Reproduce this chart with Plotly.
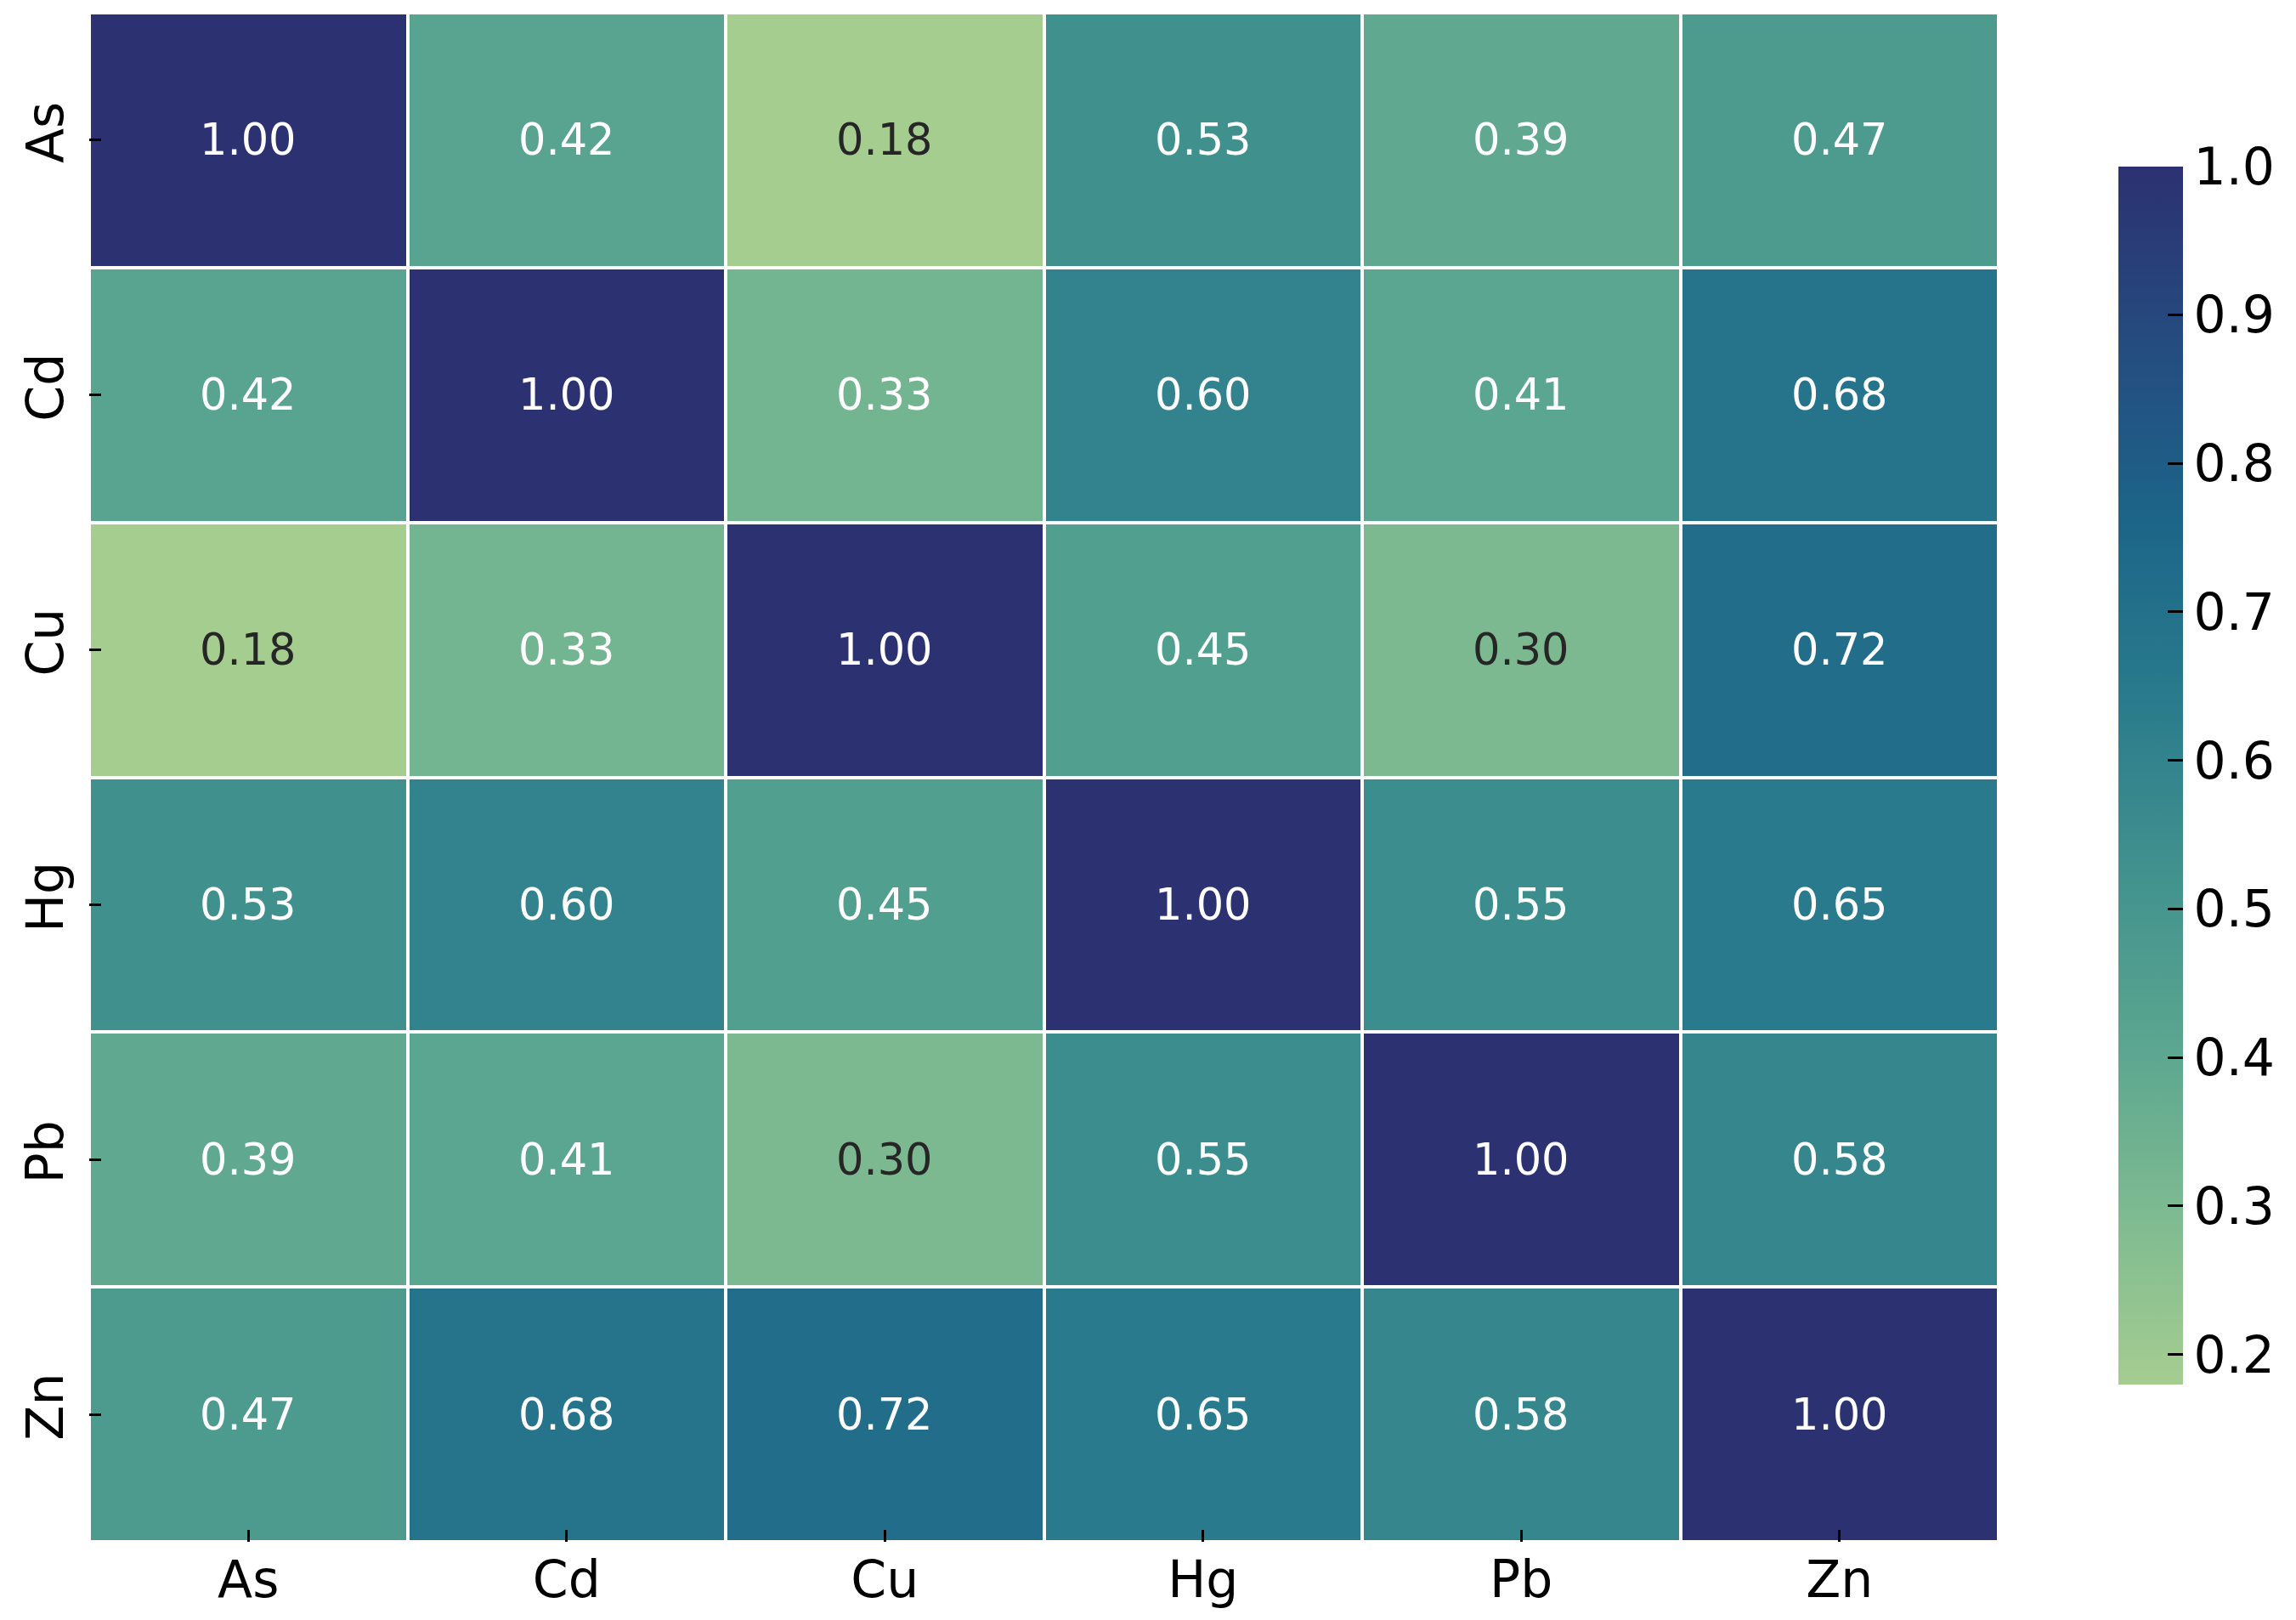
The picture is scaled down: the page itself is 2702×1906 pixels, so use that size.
import plotly.graph_objects as go

elements = ["As", "Cd", "Cu", "Hg", "Pb", "Zn"]
corr = [
    [1.00, 0.42, 0.18, 0.53, 0.39, 0.47],
    [0.42, 1.00, 0.33, 0.60, 0.41, 0.68],
    [0.18, 0.33, 1.00, 0.45, 0.30, 0.72],
    [0.53, 0.60, 0.45, 1.00, 0.55, 0.65],
    [0.39, 0.41, 0.30, 0.55, 1.00, 0.58],
    [0.47, 0.68, 0.72, 0.65, 0.58, 1.00],
]
cbar_ticks = [0.2, 0.3, 0.4, 0.5, 0.6, 0.7, 0.8, 0.9, 1.0]

crest = [
    [0.0, "#a5cd90"], [1/7, "#7dba91"], [2/7, "#59a590"], [3/7, "#40908e"],
    [4/7, "#287a8c"], [5/7, "#1c6488"], [6/7, "#254b7f"], [1.0, "#2c3172"],
]

FONT = "DejaVu Sans"
W, H = 2702, 1906
ML, MR, MT, MB = 97, 358, 7, 100
PW = W - ML - MR
PH = H - MT - MB

fig = go.Figure(go.Heatmap(
    z=corr, x=elements, y=elements,
    colorscale=crest, zmin=0.18, zmax=1.0,
    xgap=4, ygap=4,
    colorbar=dict(
        x=(2485 - ML) / PW, xanchor="left",
        y=(H - MB - 904) / PH, yanchor="middle", len=1433 / PH, lenmode="fraction",
        thickness=76, thicknessmode="pixels",
        xpad=0, ypad=0, outlinewidth=0,
        tickvals=cbar_ticks, ticktext=[f"{v:.1f}" for v in cbar_ticks],
        ticks="inside", ticklen=18, tickwidth=3, tickcolor="black",
        tickfont=dict(family=FONT, size=60, color="black"),
        ticklabelposition="outside",
    ),
    hoverinfo="skip",
))

annotations = []
for i, row in enumerate(corr):
    for j, v in enumerate(row):
        annotations.append(dict(
            x=elements[j], y=elements[i], text=f"{v:.2f}", showarrow=False,
            font=dict(family=FONT, size=51, color="#262626" if v < 0.32 else "white"),
        ))

fig.update_layout(
    width=W, height=H,
    margin=dict(l=ML, r=MR, t=MT, b=MB),
    paper_bgcolor="white", plot_bgcolor="white",
    annotations=annotations,
    font=dict(family=FONT, color="black"),
)
fig.update_xaxes(
    showgrid=False, zeroline=False, ticks="inside", ticklen=14, tickwidth=3, tickcolor="black",
    tickfont=dict(family=FONT, size=60, color="black"), ticklabelstandoff=4,
)
fig.update_yaxes(
    showgrid=False, zeroline=False, autorange="reversed", ticks="inside", ticklen=14, tickwidth=3,
    tickcolor="black", tickangle=-90,
    tickfont=dict(family=FONT, size=60, color="black"), ticklabelstandoff=18,
)

fig.write_html("out.html")
